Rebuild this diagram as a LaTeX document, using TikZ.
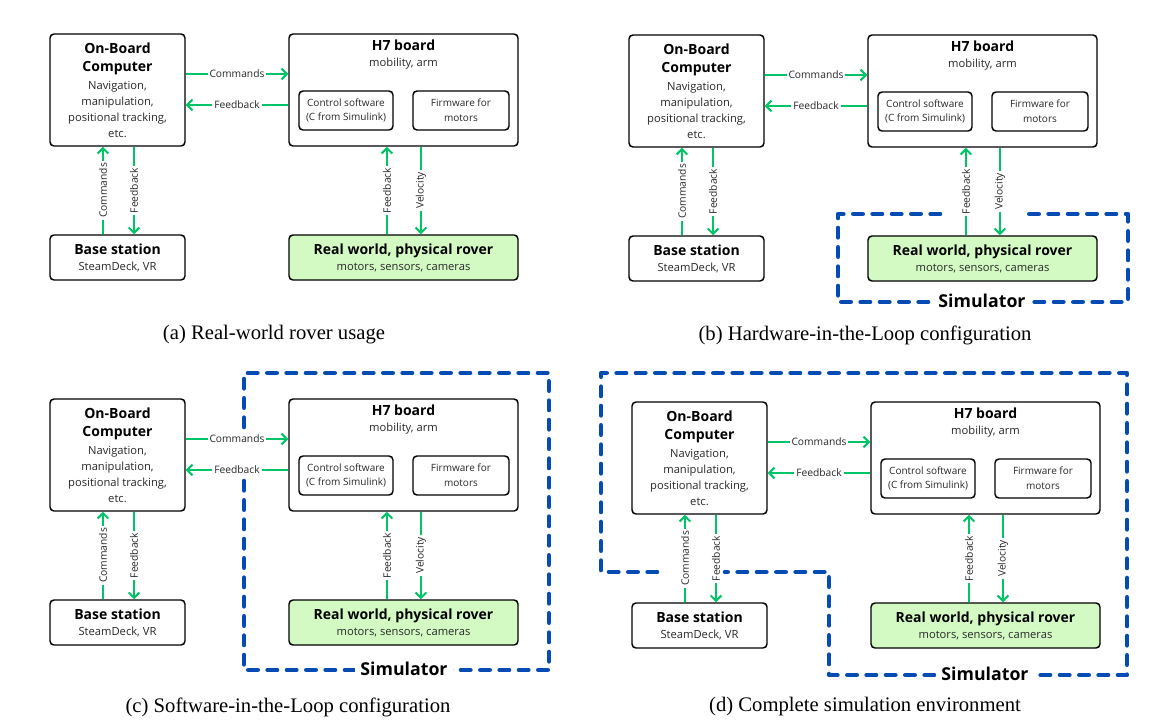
\documentclass[tikz,border=0pt]{standalone}
\usepackage{fontspec}
\setmainfont{Open Sans}
\newfontfamily\capfont{Liberation Serif}
\usetikzlibrary{arrows.meta}
\definecolor{arrowgreen}{RGB}{0,196,102}
\definecolor{simblue}{RGB}{5,75,180}
\definecolor{roverfill}{RGB}{212,250,196}
\definecolor{bodytext}{RGB}{40,40,40}
\newcommand\boxtitle{\fontsize{10.5}{14}\selectfont\bfseries\color{black}}
\newcommand\boxbody{\fontsize{8.4}{12}\selectfont\color{bodytext}}
\newcommand\innerbody{\fontsize{7.5}{11}\selectfont\color{bodytext}}

\begin{document}
\begin{tikzpicture}[x=0.75pt,y=-0.75pt,
>={Straight Barb[length=4pt,width=8pt]},
box/.style={draw,rounded corners=3pt,line width=1.1pt,align=center,inner sep=0pt},
bigbox/.style={box,minimum width=171.75pt},
smallbox/.style={box,minimum width=101.25pt},
flow/.style={arrowgreen,line width=1.5pt},
lbl/.style={fill=white,inner sep=1.5pt,font=\fontsize{7.7}{9}\selectfont,text=bodytext},
sim/.style={simblue,line width=3.5pt,line cap=round,line join=round,dash pattern=on 7pt off 7.5pt},
simlbl/.style={fill=white,inner xsep=4pt,inner ysep=1pt,font=\fontsize{13.3}{16}\selectfont\bfseries},
caption/.style={font=\capfont\fontsize{15.5}{19}\selectfont}]

\useasboundingbox (0,0) rectangle (1164,725);

\foreach \p/\dx/\dy in {a/0/0,b/579/1,c/0/365,d/582/368}{
\begin{scope}[shift={(\dx,\dy)}]
\node[smallbox,minimum height=84pt,font=\boxbody] (obc\p) at (117.5,90)
  {{\boxtitle On-Board}\\[2pt]{\boxtitle Computer}\\[1pt]Navigation,\\manipulation,\\positional tracking,\\etc.};
\node[bigbox,minimum height=84pt] (h7\p) at (403.5,90) {};
\node[anchor=north,inner sep=0pt,align=center,font=\boxbody] (h7t\p) at ([yshift=-5pt]h7\p.north)
  {{\boxtitle H7 board}\\mobility, arm};
\node[box,minimum width=70.5pt,minimum height=29.25pt,font=\innerbody] (ctl\p) at (346,110.5)
  {Control software\\(C from Simulink)};
\node[box,minimum width=72pt,minimum height=29.25pt,font=\innerbody] (fw\p) at (461,110.5)
  {Firmware for\\motors};
\node[smallbox,minimum height=33.75pt,font=\boxbody] (base\p) at (117.5,257.5)
  {{\boxtitle Base station}\\SteamDeck, VR};
\node[bigbox,minimum height=33.75pt,fill=roverfill,font=\boxbody] (rover\p) at (403.5,257.5)
  {{\boxtitle Real world, physical rover}\\motors, sensors, cameras};

\draw[flow,->] ([yshift=12pt]obc\p.east) -- node[lbl]{Commands} ([yshift=12pt]h7\p.west);
\draw[flow,->] ([yshift=-11.25pt]h7\p.west) -- node[lbl]{Feedback} ([yshift=-11.25pt]obc\p.east);
\draw[flow,->] ([xshift=-10.9pt]base\p.north) -- node[lbl,rotate=90]{Commands} ([xshift=-10.9pt]obc\p.south);
\draw[flow,->] ([xshift=12.4pt]obc\p.south) -- node[lbl,rotate=90]{Feedback} ([xshift=12.4pt]base\p.north);
\draw[flow,->] ([xshift=-12.4pt]rover\p.north) -- node[lbl,rotate=90]{Feedback} ([xshift=-12.4pt]h7\p.south);
\draw[flow,->] ([xshift=13.1pt]h7\p.south) -- node[lbl,rotate=90]{Velocity} ([xshift=13.1pt]rover\p.north);
\end{scope}
}

% simulator outlines
\draw[sim] (940,214) -- (838,214) -- (838,302) -- (1128,302) -- (1128,214) -- (1027,214);
\node[simlbl] (simb) at (982,301) {Simulator};
\draw[sim] (244,427) -- (244,373) -- (549,373) -- (549,670) -- (244,670) -- (244,480);
\node[simlbl] (simc) at (404,669) {Simulator};
\draw[sim] (657,572) -- (601,572) -- (601,373) -- (1127,373) -- (1127,675) -- (829,675) -- (829,572) -- (725,572);
\node[simlbl] (simd) at (985,674) {Simulator};

\node[caption] (capa) at (274,335) {(a) Real-world rover usage};
\node[caption] (capb) at (865,335) {(b) Hardware-in-the-Loop configuration};
\node[caption] (capc) at (288,707) {(c) Software-in-the-Loop configuration};
\node[caption] (capd) at (865,707) {(d) Complete simulation environment};

\end{tikzpicture}
\end{document}
